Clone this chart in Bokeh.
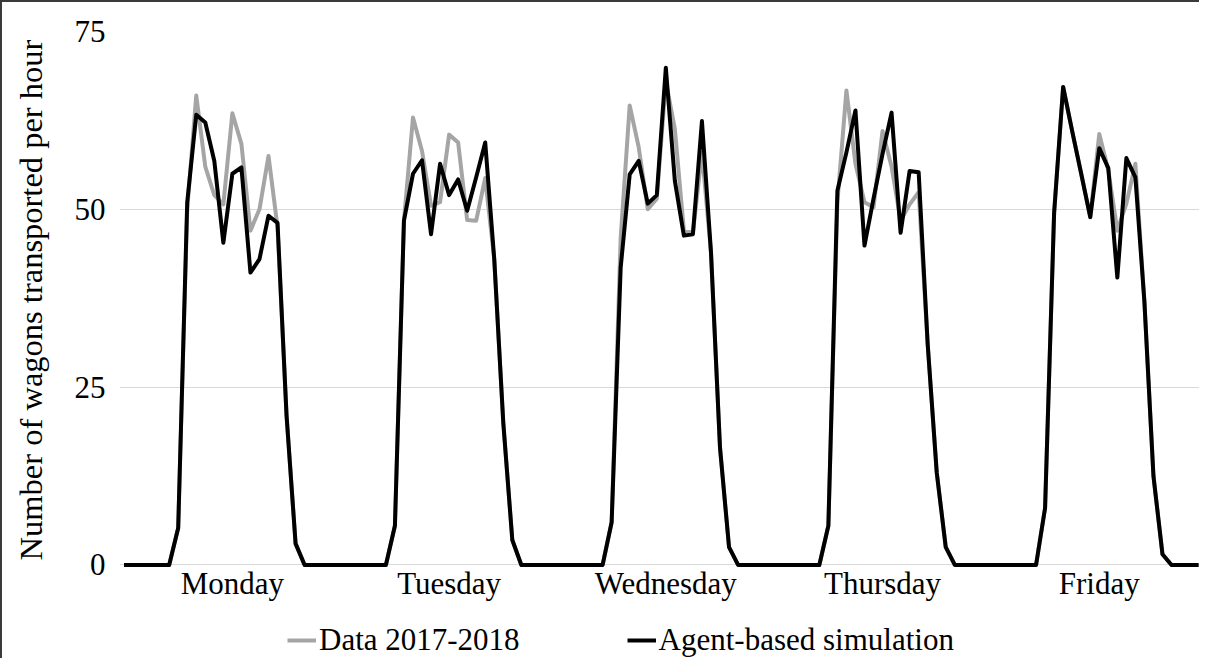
from bokeh.plotting import figure
from bokeh.models import Legend, LegendItem, FixedTicker
from bokeh.layouts import column
from bokeh.embed import file_html
from bokeh.resources import INLINE

# ---- data (hourly values, 24 per day) ----
days = ["Monday", "Tuesday", "Wednesday", "Thursday", "Friday"]
day_tick_hours = [12, 36, 60, 84, 108]

data_mon = [0, 0, 0, 0, 0, 0, 5.2, 50, 66, 56, 52, 50.7, 63.5, 59.2, 47, 50, 57.5, 47.5, 21, 3, 0, 0, 0, 0]
data_tue = [0, 0, 0, 0, 0, 0, 5.5, 48.4, 62.9, 58.2, 50.5, 51, 60.5, 59.4, 48.5, 48.4, 54.4, 43, 20, 3.5, 0, 0, 0, 0]
data_wed = [0, 0, 0, 0, 0, 0, 6, 46, 64.6, 58.7, 50, 51.5, 68, 61.3, 47, 46.7, 58, 44, 16.5, 2.5, 0, 0, 0, 0]
data_thu = [0, 0, 0, 0, 0, 0, 5.5, 51, 66.7, 56.4, 51, 50.3, 61, 56, 48.4, 50.7, 52.4, 31, 13, 2.5, 0, 0, 0, 0]
data_fri = [0, 0, 0, 0, 0, 0, 8, 49.5, 67.2, 61, 55, 48.9, 60.6, 55.5, 47, 50.8, 56.4, 37, 12.5, 1.5, 0, 0, 0, 0]

sim_mon = [0, 0, 0, 0, 0, 0, 5.2, 51, 63.3, 62.2, 56.8, 45.3, 55, 55.9, 41.1, 43, 49.1, 48.1, 21, 3, 0, 0, 0, 0]
sim_tue = [0, 0, 0, 0, 0, 0, 5.5, 48.4, 55, 56.9, 46.5, 56.4, 52, 54.2, 49.8, 54.5, 59.4, 43, 20, 3.5, 0, 0, 0, 0]
sim_wed = [0, 0, 0, 0, 0, 0, 6, 41.8, 54.9, 56.8, 50.8, 52, 69.9, 54, 46.3, 46.5, 62.4, 44, 16.5, 2.5, 0, 0, 0, 0]
sim_thu = [0, 0, 0, 0, 0, 0, 5.5, 52.6, 58, 63.9, 44.9, 51.5, 57.8, 63.6, 46.7, 55.4, 55.2, 31, 13, 2.5, 0, 0, 0, 0]
sim_fri = [0, 0, 0, 0, 0, 0, 8, 49.5, 67.2, 61, 55, 48.9, 58.6, 55.8, 40.4, 57.2, 54.5, 37, 12.5, 1.5, 0, 0, 0, 0]

y_ticks = [0, 25, 50, 75]
series_labels = ["Data 2017-2018", "Agent-based simulation"]

data_all = data_mon + data_tue + data_wed + data_thu + data_fri
sim_all = sim_mon + sim_tue + sim_wed + sim_thu + sim_fri
hours = list(range(len(sim_all)))

FONT = "Liberation Serif"
GRAY = "#A5A5A5"
BLACK = "#000000"
LW = 4

p = figure(width=1197, height=606, x_range=(-0.5, 119.1), y_range=(-0.5, 75),
           output_backend="svg", toolbar_location=None,
           min_border_left=117, min_border_right=0, min_border_top=29, min_border_bottom=40)

p.outline_line_color = None
p.xgrid.grid_line_color = None
p.ygrid.grid_line_color = "#D9D9D9"
p.ygrid.grid_line_width = 1
p.ygrid.ticker = FixedTicker(ticks=y_ticks)

p.line(hours, data_all, line_color=GRAY, line_width=LW, line_join="round")
p.line(hours, sim_all, line_color=BLACK, line_width=LW, line_join="round")

# x axis
p.xaxis.ticker = FixedTicker(ticks=day_tick_hours)
p.xaxis.major_label_overrides = {h: d for h, d in zip(day_tick_hours, days)}
p.xaxis.axis_line_color = None
p.xaxis.major_tick_line_color = None
p.xaxis.minor_tick_line_color = None
p.xaxis.major_label_standoff = -9
p.xaxis.major_label_text_font = FONT
p.xaxis.major_label_text_font_size = "31px"
p.xaxis.major_label_text_color = BLACK

# y axis
p.yaxis.ticker = FixedTicker(ticks=y_ticks)
p.yaxis.axis_line_color = None
p.yaxis.major_tick_line_color = None
p.yaxis.minor_tick_line_color = None
p.yaxis.major_label_standoff = 8
p.yaxis.major_label_text_font = FONT
p.yaxis.major_label_text_font_size = "31px"
p.yaxis.major_label_text_color = BLACK
p.yaxis.axis_label = "Number of wagons transported per hour"
p.yaxis.axis_label_text_font = FONT
p.yaxis.axis_label_text_font_size = "32.5px"
p.yaxis.axis_label_text_font_style = "normal"
p.yaxis.axis_label_text_color = BLACK
p.yaxis.axis_label_standoff = 23

# legend strip below the chart (its lines lie outside the strip's visible range)
pl = figure(width=1197, height=50, x_range=(0, 1), y_range=(-1000, -999),
            output_backend="svg", toolbar_location=None, min_border=0)
pl.axis.visible = False
pl.grid.visible = False
pl.outline_line_color = None
l_data = pl.line(hours, data_all, line_color=GRAY, line_width=LW)
l_sim = pl.line(hours, sim_all, line_color=BLACK, line_width=LW)
legend = Legend(items=[LegendItem(label=series_labels[0], renderers=[l_data]),
                       LegendItem(label=series_labels[1], renderers=[l_sim])],
                orientation="horizontal", location=(168, 0), spacing=107,
                glyph_width=29, glyph_height=30, label_standoff=3, padding=0, margin=0,
                border_line_color=None, background_fill_alpha=0,
                label_text_font=FONT, label_text_font_size="31px", label_text_color=BLACK)
pl.add_layout(legend, "center")

layout = column(p, pl, spacing=0)
layout.styles = {"border-left": "2px solid #3a3a3a", "border-top": "2px solid #3a3a3a"}

open("out.html", "w").write(file_html(layout, INLINE))
